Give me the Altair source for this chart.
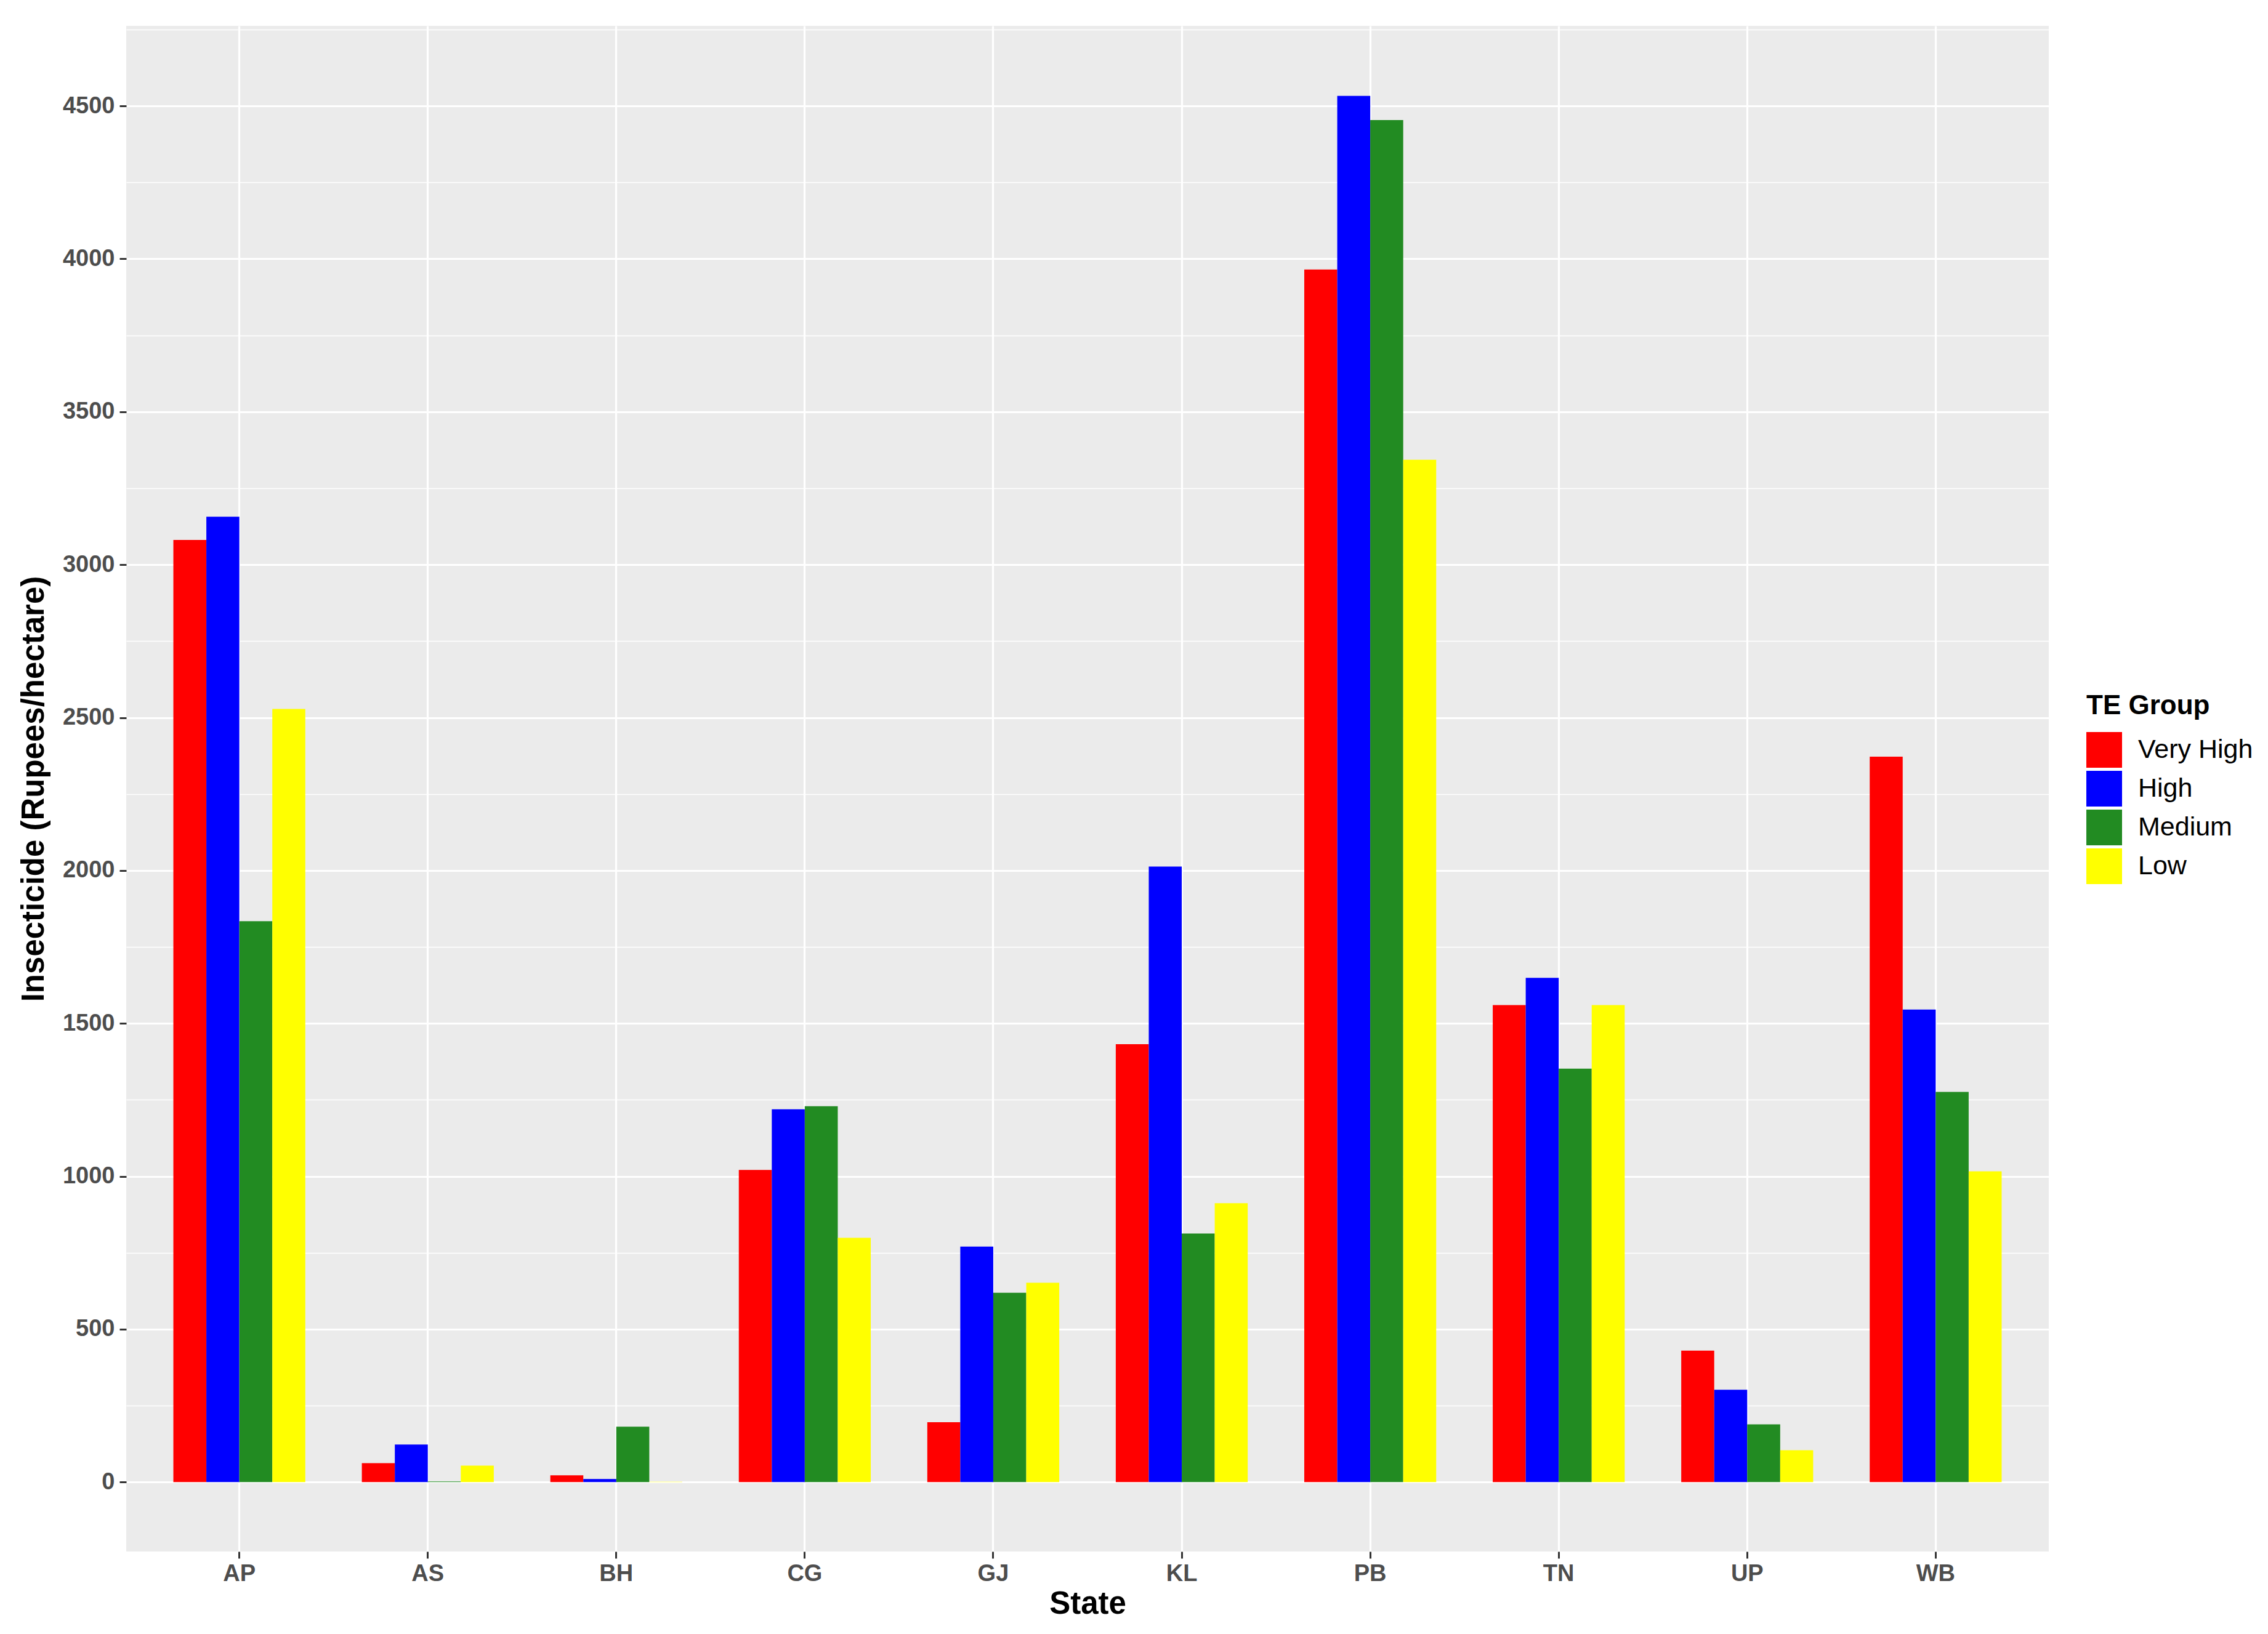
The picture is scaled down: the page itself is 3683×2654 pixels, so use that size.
import altair as alt
import pandas as pd

states = ["AP", "AS", "BH", "CG", "GJ", "KL", "PB", "TN", "UP", "WB"]
groups = ["Very High", "High", "Medium", "Low"]
very_high = [3081, 62, 22, 1021, 196, 1432, 3965, 1560, 430, 2372]
high = [3157, 123, 10, 1219, 770, 2013, 4533, 1649, 302, 1545]
medium = [1834, 2, 181, 1229, 619, 813, 4454, 1352, 189, 1276]
low = [2528, 54, 1, 799, 652, 912, 3343, 1560, 104, 1016]
colors = ["#FF0000", "#0000FF", "#228B22", "#FFFF00"]
y_ticks = list(range(0, 4751, 250))

series = {"Very High": very_high, "High": high, "Medium": medium, "Low": low}
rows = []
for g in groups:
    for s, v in zip(states, series[g]):
        rows.append({"State": s, "Group": g, "Value": v})
df = pd.DataFrame(rows)

FONT = "Liberation Sans"
major = "datum.value % 500 === 0"

chart = alt.Chart(df).mark_bar(strokeWidth=0).encode(
    x=alt.X(
        "State:N",
        sort=states,
        scale=alt.Scale(paddingInner=0.3, paddingOuter=0.25),
        axis=alt.Axis(
            title="State",
            labelAngle=0,
            bandPosition=0.5,
            domain=False,
            grid=True,
            gridColor="white",
            gridWidth=3.2,
            tickColor="#333333",
            tickWidth=3,
            tickSize=11,
            labelFont=FONT,
            labelFontSize=38,
            labelFontWeight="bold",
            labelColor="#4D4D4D",
            labelPadding=6,
            titleFont=FONT,
            titleFontSize=51,
            titleFontWeight="bold",
            titleColor="black",
            titlePadding=5,
        ),
    ),
    xOffset=alt.XOffset(
        "Group:N", sort=groups, scale=alt.Scale(paddingInner=0, paddingOuter=0)
    ),
    y=alt.Y(
        "Value:Q",
        scale=alt.Scale(domain=[-227, 4762], nice=False, zero=False),
        axis=alt.Axis(
            title="Insecticide (Rupees/hectare)",
            values=y_ticks,
            format="d",
            labelExpr="datum.value % 500 === 0 ? datum.label : ''",
            domain=False,
            grid=True,
            gridColor="white",
            gridWidth={"condition": {"test": major, "value": 3.2}, "value": 1.6},
            tickOpacity={"condition": {"test": major, "value": 1}, "value": 0},
            tickColor="#333333",
            tickWidth=3,
            tickSize=11,
            labelFont=FONT,
            labelFontSize=38,
            labelFontWeight="bold",
            labelColor="#4D4D4D",
            labelPadding=8,
            titleFont=FONT,
            titleFontSize=51,
            titleFontWeight="bold",
            titleColor="black",
            titlePadding=20,
        ),
    ),
    color=alt.Color(
        "Group:N",
        sort=groups,
        scale=alt.Scale(domain=groups, range=colors),
        legend=alt.Legend(
            title="TE Group",
            orient="none",
            legendX=3183,
            legendY=1083,
            symbolType="square",
            symbolSize=3364,
            symbolStrokeWidth=0,
            symbolOpacity=1,
            titleFont=FONT,
            titleFontSize=44,
            titleFontWeight="bold",
            titleColor="black",
            titlePadding=20,
            titleLimit=0,
            labelFont=FONT,
            labelFontSize=43,
            labelColor="black",
            labelOffset=26,
            labelLimit=0,
            rowPadding=5,
            padding=0,
        ),
    ),
).properties(
    width=3122,
    height=2478,
    autosize=alt.AutoSizeParams(type="none"),
    padding={"left": 197, "top": 34, "right": 348, "bottom": 126},
    background="white",
).configure_view(fill="#EBEBEB", strokeWidth=0)

chart.save("out.html", embed_options={"renderer": "svg", "actions": False})
